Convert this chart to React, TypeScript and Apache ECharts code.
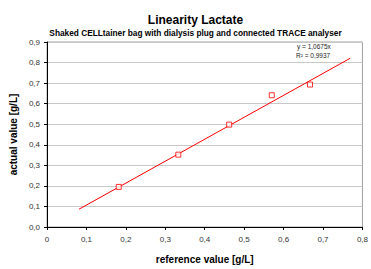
import React, { useEffect, useRef } from "react";
import * as echarts from "echarts";

const refValues = [0.182, 0.333, 0.462, 0.57, 0.667];
const actualValues = [0.195, 0.352, 0.498, 0.641, 0.693];
const trendSlope = 1.0675;
const trendX = [0.081, 0.769];
const titleText = "Linearity Lactate";
const subtitleText = "Shaked CELLtainer bag with dialysis plug and connected TRACE analyser";
const eqText = "y = 1,0675x";
const r2Text = "R² = 0,9937";

const FONT = "Liberation Sans";

export default function App() {
  const ref = useRef<HTMLDivElement>(null);
  useEffect(() => {
    const chart = echarts.init(ref.current!, null, { renderer: "svg" });
    const fmtX = (v: number) => (Math.abs(v) < 1e-9 ? "0" : v.toFixed(1).replace(".", ","));
    const fmtY = (v: number) => v.toFixed(1).replace(".", ",");
    chart.setOption({
      animation: false,
      backgroundColor: "#ffffff",
      textStyle: { fontFamily: FONT },
      title: [
        {
          text: titleText,
          left: 190.5,
          top: 9,
          textAlign: "center",
          textStyle: { fontFamily: FONT, fontSize: 12, fontWeight: "bold", color: "#000" },
        },
        {
          text: subtitleText,
          left: 190.5,
          top: 24,
          textAlign: "center",
          textStyle: { fontFamily: FONT, fontSize: 8.3, fontWeight: "bold", color: "#000" },
        },
      ],
      grid: {
        left: 43.3,
        right: 5.3,
        top: 42,
        bottom: 36,
        show: true,
        borderColor: "#a0a0a0",
        borderWidth: 1,
        backgroundColor: "transparent",
      },
      xAxis: {
        type: "value",
        min: 0,
        max: 0.8,
        interval: 0.1,
        name: "reference value [g/L]",
        nameLocation: "middle",
        nameGap: 27,
        nameTextStyle: { fontFamily: FONT, fontSize: 10, fontWeight: "bold", color: "#000" },
        axisLine: { show: true, lineStyle: { color: "#000", width: 1 } },
        axisTick: { show: true, length: 3, lineStyle: { color: "#000" } },
        axisLabel: { formatter: fmtX, fontFamily: FONT, fontSize: 8, color: "#333", margin: 8 },
        splitLine: { show: false },
      },
      yAxis: {
        type: "value",
        min: 0,
        max: 0.9,
        interval: 0.1,
        name: "actual value [g/L]",
        nameLocation: "middle",
        nameGap: 26,
        nameTextStyle: { fontFamily: FONT, fontSize: 10, fontWeight: "bold", color: "#000" },
        axisLine: { show: true, lineStyle: { color: "#000", width: 1 } },
        axisTick: { show: true, length: 3, lineStyle: { color: "#000" } },
        axisLabel: { formatter: fmtY, fontFamily: FONT, fontSize: 8, color: "#333", margin: 7 },
        splitLine: { show: true, lineStyle: { color: "#c8c8c8", width: 1 } },
      },
      series: [
        {
          type: "line",
          data: trendX.map((x) => [x, trendSlope * x]),
          showSymbol: false,
          symbol: "none",
          lineStyle: { color: "#ff0000", width: 1 },
          z: 2,
        },
        {
          type: "scatter",
          data: refValues.map((x, i) => [x, actualValues[i]]),
          symbol: "rect",
          symbolSize: 5,
          itemStyle: { color: "#ffffff", borderColor: "#ff0000", borderWidth: 1 },
          z: 3,
        },
      ],
      graphic: [
        {
          type: "text",
          left: 297,
          top: 43,
          style: { text: eqText, fontFamily: FONT, fontSize: 6.5, fill: "#222" },
        },
        {
          type: "text",
          left: 296,
          top: 52,
          style: { text: r2Text, fontFamily: FONT, fontSize: 6.5, fill: "#222" },
        },
      ],
    });
    return () => chart.dispose();
  }, []);
  return <div ref={ref} style={{ width: 371, height: 269, position: "absolute", left: 0, top: 0 }} />;
}
